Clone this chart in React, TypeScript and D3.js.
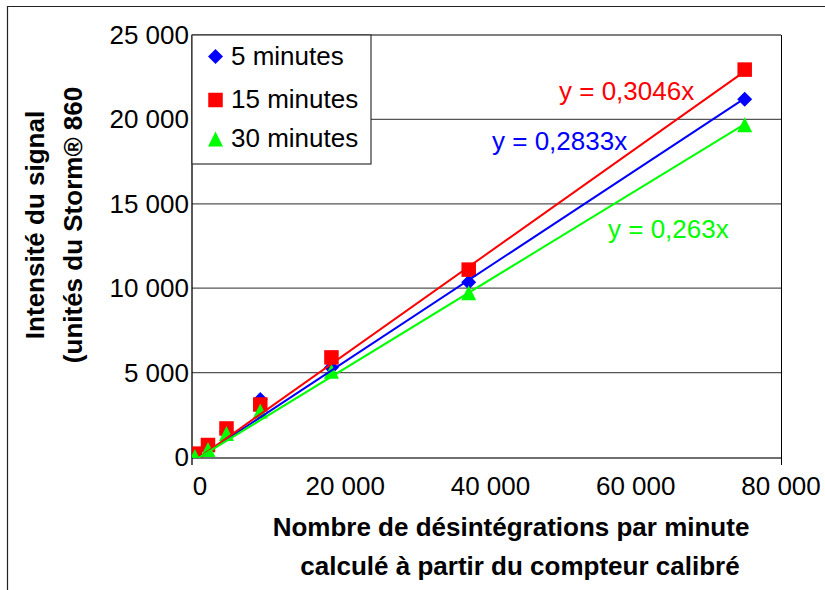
import React from "react";
import * as d3 from "d3";

const xValues = [-700, 1100, 3650, 8300, 18100, 37000, 75000];
const series5 = [100, 550, 1500, 3400, 5300, 10350, 21200];
const series15 = [200, 710, 1690, 3110, 5900, 11100, 22950];
const series30 = [0, 420, 1360, 2700, 5050, 9700, 19650];
const seriesNames = ["5 minutes", "15 minutes", "30 minutes"];
const slopes = [0.2833, 0.3046, 0.263];
const equations = ["y = 0,2833x", "y = 0,3046x", "y = 0,263x"];
const colors = ["#0000FF", "#FF0000", "#00FF00"];
const xTicks = [0, 20000, 40000, 60000, 80000];
const yTicks = [0, 5000, 10000, 15000, 20000, 25000];

const W = 825;
const H = 590;
const FONT = "'Liberation Sans', Arial, Helvetica, sans-serif";
const FS = 26;

function fmt(v: number) {
  const s = d3.format(",")(v);
  return s.replace(/,/g, " ");
}

function Marker({ kind, cx, cy, color }: { kind: number; cx: number; cy: number; color: string }) {
  if (kind === 0) {
    const r = 7.5;
    return <path d={`M${cx},${cy - r}L${cx + r},${cy}L${cx},${cy + r}L${cx - r},${cy}Z`} fill={color} />;
  }
  if (kind === 1) {
    const s = 14.5;
    return <rect x={cx - s / 2} y={cy - s / 2} width={s} height={s} fill={color} />;
  }
  const w = 15;
  const h = 14;
  return <path d={`M${cx},${cy - h / 2 - 1}L${cx + w / 2},${cy + h / 2}L${cx - w / 2},${cy + h / 2}Z`} fill={color} />;
}

export default function App() {
  const x = d3.scaleLinear().domain([-1100, 80000]).range([192, 781]);
  const y = d3.scaleLinear().domain([0, 25000]).range([457, 35]);
  const data = [series5, series15, series30];

  const eqPos = [
    { x: 492, y: 150 },
    { x: 559, y: 100 },
    { x: 608, y: 238 },
  ];
  const legendRows = [56.5, 100, 139.5];
  const legendBase = [65, 107.5, 147];

  const xMin = d3.min(xValues) as number;
  const xMax = d3.max(xValues) as number;

  return (
    <svg width={W} height={H} style={{ position: "absolute", left: 0, top: 0, background: "#fff" }} fontFamily={FONT}>
      <defs>
        <clipPath id="plotClip">
          <rect x={192} y={35} width={781 - 192} height={457 - 35 + 1} />
        </clipPath>
      </defs>
      <rect x={0} y={0} width={W} height={H} fill="#fff" />
      {/* outer chart border */}
      <path d={`M7.5,${H}V6.5H${W}`} fill="none" stroke="#222" strokeWidth={1.2} />

      {/* gridlines */}
      {yTicks
        .filter((t) => t > 0)
        .map((t) => (
          <line key={t} x1={192} x2={781} y1={y(t)} y2={y(t)} stroke="#555" strokeWidth={1.3} />
        ))}
      {/* x axis */}
      <line x1={192} x2={781} y1={y(0) + 1} y2={y(0) + 1} stroke="#707070" strokeWidth={2} />
      {/* y axis */}
      <line x1={192} x2={192} y1={35} y2={465} stroke="#000" strokeWidth={1.3} />
      {/* right border */}
      <line x1={781.5} x2={781.5} y1={35} y2={465} stroke="#000" strokeWidth={1} />

      {/* tick labels */}
      {yTicks.map((t) => (
        <text key={t} x={189} y={y(t) + 9} textAnchor="end" fontSize={FS} fill="#000">
          {fmt(t)}
        </text>
      ))}
      {xTicks.map((t) => (
        <text key={t} x={x(t)} y={495} textAnchor="middle" fontSize={FS} fill="#000">
          {fmt(t)}
        </text>
      ))}

      {/* markers */}
      <g clipPath="url(#plotClip)">
        {data.map((s, si) =>
          s.map((v, i) => <Marker key={`${si}-${i}`} kind={si} cx={x(xValues[i])} cy={y(v)} color={colors[si]} />)
        )}
        {/* trendlines */}
        {slopes.map((a, si) => (
          <line
            key={si}
            x1={x(xMin)}
            y1={y(a * xMin)}
            x2={x(xMax)}
            y2={y(a * xMax)}
            stroke={colors[si]}
            strokeWidth={2}
          />
        ))}
      </g>

      {/* equations */}
      {equations.map((e, i) => (
        <text key={i} x={eqPos[i].x} y={eqPos[i].y} fontSize={FS} fill={colors[i]}>
          {e}
        </text>
      ))}

      {/* legend */}
      <rect x={192} y={35} width={179} height={129} fill="#fff" stroke="#333" strokeWidth={1.2} />
      {seriesNames.map((n, i) => (
        <g key={n}>
          <Marker kind={i} cx={215.5} cy={legendRows[i]} color={colors[i]} />
          <text x={231} y={legendBase[i]} fontSize={FS} fill="#000">
            {n}
          </text>
        </g>
      ))}

      {/* axis titles */}
      <text x={511} y={536} textAnchor="middle" fontSize={FS} fontWeight="bold" fill="#000">
        Nombre de désintégrations par minute
      </text>
      <text x={520} y={575} textAnchor="middle" fontSize={FS} fontWeight="bold" fill="#000">
        calculé à partir du compteur calibré
      </text>
      <text transform="translate(44,225) rotate(-90)" textAnchor="middle" fontSize={FS} fontWeight="bold" fill="#000">
        Intensité du signal
      </text>
      <text transform="translate(82,225) rotate(-90)" textAnchor="middle" fontSize={FS} fontWeight="bold" fill="#000">
        (unités du Storm® 860
      </text>
    </svg>
  );
}
